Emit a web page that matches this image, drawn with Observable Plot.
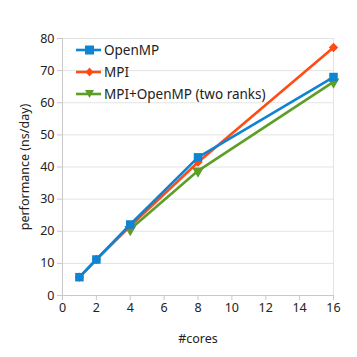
<!DOCTYPE html>
<html><head><meta charset="utf-8">
<script src="https://cdn.jsdelivr.net/npm/d3@7"></script>
<script src="https://cdn.jsdelivr.net/npm/@observablehq/plot@0.6"></script>
<style>
body{margin:0;background:#fff;font-family:"Noto Sans",sans-serif;}
#wrap{position:relative;width:357px;height:357px;}
#legend{position:absolute;left:76px;top:39px;font-size:13.5px;color:#222;line-height:22px;}
#legend .row{display:flex;align-items:center;height:22px;}
#legend svg{margin-right:3px;}
</style></head><body>
<div id="wrap"></div>
<script>
const cores = [1, 2, 4, 8, 16];
const seriesNames = ["OpenMP", "MPI", "MPI+OpenMP (two ranks)"];
const openmp = [5.7, 11.2, 22.1, 43.0, 68.0];
const mpi = [5.7, 11.2, 21.6, 41.5, 77.2];
const hybrid = [null, null, 20.6, 38.8, 66.5];
const xTicks = [0, 2, 4, 6, 8, 10, 12, 14, 16];
const yTicks = [0, 10, 20, 30, 40, 50, 60, 70, 80];
const colors = ["#0e84d2", "#ff4b14", "#5c9e26"];
const symbols = ["square", "diamond2", "triangle"];
const rotates = [0, 0, 180];
const sizes = [4.8, 4.2, 4.4];

const values = [openmp, mpi, hybrid];
const data = [];
seriesNames.forEach((s, i) => cores.forEach((c, j) => {
  if (values[i][j] != null) data.push({series: s, cores: c, perf: values[i][j]});
}));
const drawOrder = [2, 1, 0];

const marks = [
  Plot.gridY(yTicks, {stroke: "#e3e3e3", strokeOpacity: 1}),
  Plot.ruleX([16], {stroke: "#e3e3e3"}),
  Plot.ruleX([0], {stroke: "#c8c8c8"}),
  Plot.ruleY([0], {stroke: "#c8c8c8"}),
  Plot.axisX(xTicks, {tickSize: 5, tickPadding: 3, stroke: "#c8c8c8", fill: "#222", fontSize: 12.5, label: "#cores", labelAnchor: "center", labelOffset: 47, labelArrow: "none"}),
  Plot.axisY(yTicks, {tickSize: 5, tickPadding: 3, stroke: "#c8c8c8", fill: "#222", fontSize: 12.5, label: "performance (ns/day)", labelAnchor: "center", labelOffset: 42, labelArrow: "none"})
];
for (const i of drawOrder) {
  const d = data.filter(r => r.series === seriesNames[i]);
  marks.push(Plot.line(d, {x: "cores", y: "perf", stroke: colors[i], strokeWidth: 2.6}));
  marks.push(Plot.dot(d, {x: "cores", y: "perf", fill: colors[i], symbol: symbols[i], r: sizes[i], rotate: rotates[i]}));
}

const chart = Plot.plot({
  width: 357, height: 357,
  marginLeft: 62, marginRight: 24, marginTop: 38, marginBottom: 62,
  style: {fontFamily: "Noto Sans, sans-serif", fontSize: "12.5px", color: "#222", background: "#fff"},
  x: {domain: [0, 16]},
  y: {domain: [0, 80]},
  marks
});
const wrap = document.getElementById("wrap");
wrap.appendChild(chart);

const legend = document.createElement("div");
legend.id = "legend";
const shapes = [
  c => `<rect x="9" y="3.5" width="9" height="9" fill="${c}"/>`,
  c => `<path d="M13.5 3.5 L17.5 8 L13.5 12.5 L9.5 8Z" fill="${c}"/>`,
  c => `<path d="M9 4 L18 4 L13.5 12Z" fill="${c}"/>`
];
seriesNames.forEach((s, i) => {
  const row = document.createElement("div");
  row.className = "row";
  row.innerHTML = `<svg width="25" height="16"><line x1="0" x2="25" y1="8" y2="8" stroke="${colors[i]}" stroke-width="2.6"/>${shapes[i](colors[i])}</svg><span>${s}</span>`;
  legend.appendChild(row);
});
wrap.appendChild(legend);
</script>
</body></html>
